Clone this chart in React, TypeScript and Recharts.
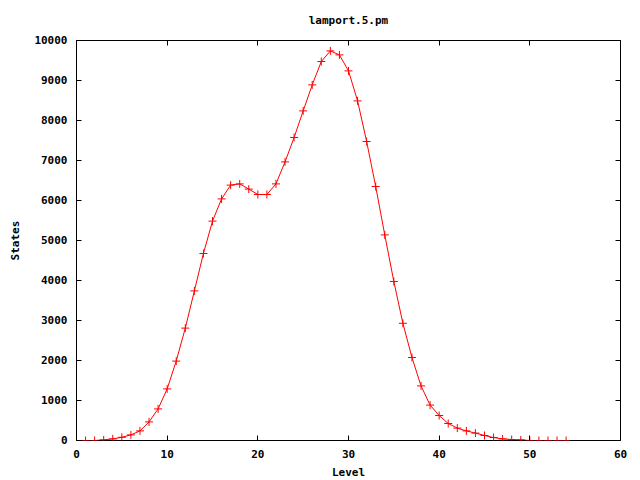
import { LineChart, Line, XAxis, YAxis } from 'recharts'

const levels = [
  0, 1, 2, 3, 4, 5, 6, 7, 8, 9, 10, 11, 12, 13, 14, 15, 16, 17, 18, 19, 20, 21, 22, 23, 24, 25, 26, 27,
  28, 29, 30, 31, 32, 33, 34, 35, 36, 37, 38, 39, 40, 41, 42, 43, 44, 45, 46, 47, 48, 49, 50, 51, 52, 53, 54,
]
const states = [
  0, 0, 0, 15, 40, 80, 140, 240, 465, 790, 1290, 1985, 2810, 3740, 4675, 5485, 6040, 6385, 6415, 6285,
  6150, 6150, 6415, 6965, 7575, 8240, 8890, 9475, 9740, 9640, 9240, 8490, 7475, 6350, 5140, 3975, 2930,
  2075, 1365, 885, 625, 425, 310, 240, 185, 125, 75, 40, 25, 15, 0, 0, 0, 0, 0,
]
const xTicks = [0, 10, 20, 30, 40, 50, 60]
const yTicks = [0, 1000, 2000, 3000, 4000, 5000, 6000, 7000, 8000, 9000, 10000]

const data = levels.map((level, i) => ({ level, states: states[i] }))

const FONT = '"DejaVu Sans Mono", monospace'
const textStyle = { fontFamily: FONT, fontSize: 11, fontWeight: 'bold', fill: '#000' }
const RED = '#ff0000'
const GAP = 9 // label distance from the frame
const TICK = 5 // inward tick length

const crisp = (v: number) => Math.round(v - 0.5) + 0.5

// ticks drawn inward, gnuplot style; the label sits GAP px outside the frame
const BottomTick = (p: any) => {
  const x = crisp(p.x)
  return (
    <g>
      <line x1={x} x2={x} y1={p.y - GAP} y2={p.y - GAP - TICK} stroke="#000" />
      <text x={p.x} y={p.y} dy="0.75em" textAnchor="middle" style={textStyle}>
        {p.payload.value}
      </text>
    </g>
  )
}
const TopTick = (p: any) => {
  const x = crisp(p.x)
  return <line x1={x} x2={x} y1={p.y} y2={p.y + TICK} stroke="#000" />
}
const LeftTick = (p: any) => {
  const y = crisp(p.y)
  return (
    <g>
      <line x1={p.x + GAP} x2={p.x + GAP + TICK} y1={y} y2={y} stroke="#000" />
      <text x={p.x} y={p.y} dy="0.36em" textAnchor="end" style={textStyle}>
        {p.payload.value}
      </text>
    </g>
  )
}
const RightTick = (p: any) => {
  const y = crisp(p.y)
  return <line x1={p.x} x2={p.x - TICK} y1={y} y2={y} stroke="#000" />
}

const Plus = (props: any) => {
  const { cx, cy, index } = props
  if (cx == null || cy == null) return <g key={index} />
  return <path key={index} d={`M${cx - 4},${cy}h8M${cx},${cy - 4}v8`} stroke={RED} strokeWidth={1} fill="none" />
}

export default function App() {
  return (
    <div style={{ position: 'absolute', left: 0, top: 0, width: 640, height: 480, background: '#fff' }}>
      <LineChart width={640} height={480} data={data} margin={{ top: 39.5, right: 18.5, bottom: 0, left: 0 }}>
        <XAxis
          xAxisId="bottom"
          dataKey="level"
          type="number"
          domain={[0, 60]}
          ticks={xTicks}
          allowDataOverflow
          height={39.5}
          stroke="#000"
          tickSize={0}
          tickMargin={GAP}
          tickLine={false}
          tick={BottomTick}
          label={{ value: 'Level', position: 'insideBottom', offset: 4, style: textStyle }}
        />
        <XAxis
          xAxisId="top"
          orientation="top"
          dataKey="level"
          type="number"
          domain={[0, 60]}
          ticks={xTicks}
          allowDataOverflow
          height={1}
          stroke="#000"
          tickSize={0}
          tickMargin={0}
          tickLine={false}
          tick={TopTick}
          label={{ value: 'lamport.5.pm', position: 'top', offset: 16, style: textStyle }}
        />
        <YAxis
          yAxisId="left"
          type="number"
          domain={[0, 10000]}
          ticks={yTicks}
          allowDataOverflow
          width={76.5}
          stroke="#000"
          tickSize={0}
          tickMargin={GAP}
          tickLine={false}
          tick={LeftTick}
          label={{
            content: (p: any) => {
              const vb = p.viewBox
              const cy = vb.y + vb.height / 2
              return (
                <text
                  x={15}
                  y={cy}
                  transform={`rotate(-90 15 ${cy})`}
                  textAnchor="middle"
                  dominantBaseline="central"
                  style={textStyle}
                >
                  States
                </text>
              )
            },
          }}
        />
        <YAxis
          yAxisId="right"
          orientation="right"
          type="number"
          domain={[0, 10000]}
          ticks={yTicks}
          allowDataOverflow
          width={1}
          stroke="#000"
          tickSize={0}
          tickMargin={0}
          tickLine={false}
          tick={RightTick}
        />
        <Line
          xAxisId="bottom"
          yAxisId="left"
          type="linear"
          dataKey="states"
          stroke={RED}
          strokeWidth={1}
          dot={Plus}
          activeDot={false}
          isAnimationActive={false}
        />
        <Line
          xAxisId="top"
          yAxisId="right"
          type="linear"
          dataKey="states"
          stroke="none"
          dot={false}
          activeDot={false}
          legendType="none"
          isAnimationActive={false}
        />
      </LineChart>
    </div>
  )
}
